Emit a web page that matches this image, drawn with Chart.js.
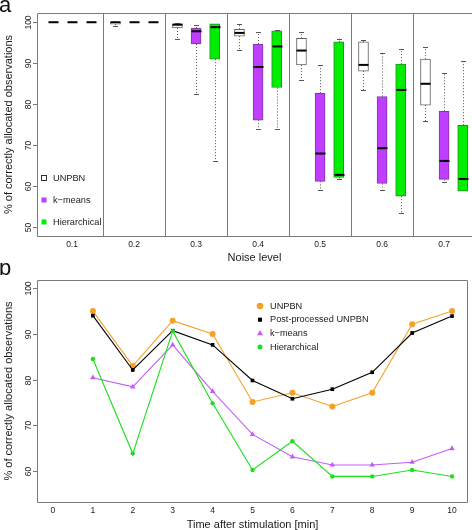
<!DOCTYPE html>
<html>
<head>
<meta charset="utf-8">
<script src="https://cdn.jsdelivr.net/npm/chart.js@4.4.1/dist/chart.umd.min.js"></script>
<style>
  html, body { margin: 0; padding: 0; background: #fff; }
  canvas { display: block; }
</style>
</head>
<body>
<canvas id="chart_a" width="472" height="263"></canvas>
<canvas id="chart_b" width="472" height="267"></canvas>
<script>
// ---- panel a : box plots per noise level ----
const noiseLevels = ["0.1", "0.2", "0.3", "0.4", "0.5", "0.6", "0.7"];
// [lower whisker, q1, median, q3, upper whisker] for each noise level
const unpbnBoxes = [
  [100, 100, 100, 100, 100],
  [99.0, 99.5, 100, 100, 100],
  [95.8, 98.6, 99.4, 99.6, 99.8],
  [93.2, 96.6, 97.4, 98.3, 99.6],
  [85.9, 89.6, 93.1, 96.1, 97.6],
  [83.4, 88.1, 89.6, 95.2, 95.6],
  [75.9, 79.8, 85.0, 91.0, 93.9]
];
const kmeansBoxes = [
  [100, 100, 100, 100, 100],
  [100, 100, 100, 100, 100],
  [82.5, 94.7, 97.8, 98.6, 99.3],
  [74.0, 76.1, 89.1, 94.7, 97.6],
  [59.1, 61.2, 68.0, 82.7, 89.6],
  [59.2, 60.7, 69.3, 81.9, 92.6],
  [61.0, 61.7, 66.2, 78.3, 87.6]
];
const hierBoxes = [
  [100, 100, 100, 100, 100],
  [100, 100, 100, 100, 100],
  [66.3, 91.0, 98.8, 99.6, 99.6],
  [74.0, 84.1, 94.1, 97.9, 98.1],
  [61.9, 62.2, 62.8, 95.2, 96.0],
  [53.4, 57.6, 83.5, 89.8, 93.5],
  [58.8, 58.8, 61.8, 74.9, 90.5]
];
const yTicksA = [50, 60, 70, 80, 90, 100];

// ---- panel b : time course ----
const minutes = [1, 2, 3, 4, 5, 6, 7, 8, 9, 10];
const xTicksB = [0, 1, 2, 3, 4, 5, 6, 7, 8, 9, 10];
const unpbnLine = [95.0, 83.0, 92.9, 90.0, 75.1, 77.1, 74.1, 77.1, 92.1, 95.0];
const postLine = [94.0, 82.1, 90.7, 87.6, 79.8, 75.8, 77.9, 81.6, 90.2, 93.9];
const kmeansLine = [80.4, 78.4, 87.6, 77.4, 68.0, 63.1, 61.3, 61.3, 61.9, 64.9];
const hierLine = [84.5, 63.8, 90.6, 74.8, 60.2, 66.5, 58.8, 58.8, 60.2, 58.8];
const yTicksB = [60, 70, 80, 90, 100];

const FONT = "'Liberation Sans', Arial, sans-serif";
const frameGray = "#7a7a7a";
const textColor = "#1a1a1a";

// frame around the plot region (panel a is cut on the right)
const framePlugin = {
  id: "frame",
  afterDraw(chart, args, opts) {
    const {ctx, chartArea: a} = chart;
    const l = Math.round(a.left) + 0.5, r = Math.round(a.right) - 0.5;
    const t = Math.round(a.top) + 0.5, b = Math.round(a.bottom) + 0.5;
    ctx.save();
    ctx.strokeStyle = frameGray;
    ctx.lineWidth = 1;
    ctx.beginPath();
    if (opts.open) {
      ctx.moveTo(r + 2, t); ctx.lineTo(l, t); ctx.lineTo(l, b); ctx.lineTo(r + 2, b);
    } else {
      ctx.rect(l, t, r - l, b - t);
    }
    ctx.stroke();
    ctx.restore();
  }
};

// R style y ticks: short marks and labels turned upright
const sideTicks = {
  id: "sideTicks",
  afterDraw(chart) {
    const {ctx, chartArea, scales: {y}} = chart;
    ctx.save();
    ctx.strokeStyle = frameGray;
    ctx.fillStyle = textColor;
    ctx.font = "8.5px " + FONT;
    ctx.textAlign = "center";
    ctx.textBaseline = "middle";
    y.ticks.forEach(t => {
      const py = Math.round(y.getPixelForValue(t.value)) + 0.5;
      ctx.beginPath();
      ctx.moveTo(chartArea.left - 4, py);
      ctx.lineTo(chartArea.left, py);
      ctx.stroke();
      ctx.save();
      ctx.translate(chartArea.left - 8, py);
      ctx.rotate(-Math.PI / 2);
      ctx.fillText(String(t.value), 0, 0);
      ctx.restore();
    });
    ctx.restore();
  }
};

const panelLetter = {
  id: "panelLetter",
  afterDraw(chart, args, opts) {
    const ctx = chart.ctx;
    ctx.save();
    ctx.fillStyle = "#111";
    ctx.font = "22px " + FONT;
    ctx.textBaseline = "alphabetic";
    ctx.fillText(opts.text, -1, opts.baseline);
    ctx.restore();
  }
};

// whiskers, caps, medians and the dividers between noise levels
const boxWhiskers = {
  id: "boxWhiskers",
  beforeDatasetsDraw(chart) {
    const {ctx, chartArea, scales: {x}} = chart;
    ctx.save();
    ctx.strokeStyle = frameGray;
    ctx.lineWidth = 1;
    for (let i = 1; i < noiseLevels.length; i++) {
      const px = Math.round(x.getPixelForValue(i + 0.5)) + 0.5;
      ctx.beginPath();
      ctx.moveTo(px, chartArea.top);
      ctx.lineTo(px, chartArea.bottom);
      ctx.stroke();
    }
    ctx.restore();
  },
  afterDatasetsDraw(chart) {
    const {ctx, scales: {y}} = chart;
    ctx.save();
    chart.data.datasets.forEach((ds, di) => {
      const meta = chart.getDatasetMeta(di);
      meta.data.forEach((bar, i) => {
        const s = ds.stats[i];
        const cx = Math.round(bar.x) + 0.5;
        const half = bar.width / 2;
        const yLo = y.getPixelForValue(s[0]), yQ1 = y.getPixelForValue(s[1]);
        const yMed = y.getPixelForValue(s[2]);
        const yQ3 = y.getPixelForValue(s[3]), yHi = y.getPixelForValue(s[4]);
        ctx.strokeStyle = "#555";
        ctx.lineWidth = 1;
        ctx.setLineDash([1, 2]);
        ctx.beginPath();
        if (yLo - yQ1 > 1) { ctx.moveTo(cx, yQ1); ctx.lineTo(cx, yLo); }
        if (yQ3 - yHi > 1) { ctx.moveTo(cx, yQ3); ctx.lineTo(cx, yHi); }
        ctx.stroke();
        ctx.setLineDash([]);
        ctx.beginPath();
        if (yLo - yQ1 > 0.5) { ctx.moveTo(cx - half / 2, Math.round(yLo) + 0.5); ctx.lineTo(cx + half / 2, Math.round(yLo) + 0.5); }
        if (yQ3 - yHi > 0.5) { ctx.moveTo(cx - half / 2, Math.round(yHi) + 0.5); ctx.lineTo(cx + half / 2, Math.round(yHi) + 0.5); }
        ctx.stroke();
        ctx.strokeStyle = "#000";
        ctx.lineWidth = 2;
        ctx.beginPath();
        ctx.moveTo(cx - half, yMed);
        ctx.lineTo(cx + half, yMed);
        ctx.stroke();
      });
    });
    ctx.restore();
  }
};

const boxLegend = {
  id: "boxLegend",
  afterDraw(chart) {
    const {ctx, chartArea} = chart;
    ctx.save();
    ctx.font = "9.2px " + FONT;
    ctx.textBaseline = "middle";
    chart.data.datasets.forEach((ds, i) => {
      const cx = chartArea.left + 7;
      const cy = Math.round(chartArea.bottom - 58 + i * 22.2);
      ctx.fillStyle = ds.backgroundColor;
      ctx.fillRect(cx - 2.5, cy - 2.5, 5, 5);
      if (i === 0) {
        ctx.strokeStyle = "#333";
        ctx.strokeRect(cx - 2.5, cy - 2.5, 5, 5);
      }
      ctx.fillStyle = textColor;
      ctx.fillText(ds.label, cx + 9, cy);
    });
    ctx.restore();
  }
};

const lineLegend = {
  id: "lineLegend",
  afterDraw(chart) {
    const {ctx, chartArea} = chart;
    ctx.save();
    ctx.font = "9.2px " + FONT;
    ctx.textBaseline = "middle";
    chart.data.datasets.forEach((ds, i) => {
      const cx = chartArea.left + 223;
      const cy = chartArea.top + 26 + i * 13.7;
      ctx.fillStyle = ds.pointBackgroundColor;
      ctx.strokeStyle = ds.pointBackgroundColor;
      Chart.helpers.drawPoint(ctx, {pointStyle: ds.pointStyle, radius: ds.pointRadius + 0.3, rotation: 0, borderWidth: 0}, cx, cy);
      ctx.fillStyle = textColor;
      ctx.fillText(ds.label, cx + 10, cy);
    });
    ctx.restore();
  }
};

function boxData(stats, offset) {
  return stats.map((s, i) => ({x: i + 1 + offset, y: [s[1], s[3]]}));
}

function axisTitle(text) {
  return {display: true, text: text, color: textColor, font: {family: FONT, size: 11, lineHeight: 1}, padding: {top: 0, bottom: 0}};
}

const ctxA = document.getElementById("chart_a");
new Chart(ctxA, {
  type: "bar",
  data: {
    datasets: [
      {label: "UNPBN", stats: unpbnBoxes, data: boxData(unpbnBoxes, -0.3), backgroundColor: "#ffffff", borderColor: "#666666"},
      {label: "k\u2212means", stats: kmeansBoxes, data: boxData(kmeansBoxes, 0), backgroundColor: "#bf3eff", borderColor: "#7d3a98"},
      {label: "Hierarchical", stats: hierBoxes, data: boxData(hierBoxes, 0.3), backgroundColor: "#00ee00", borderColor: "#2f8a2f"}
    ]
  },
  options: {
    responsive: false,
    animation: false,
    layout: {padding: {top: 13, right: 0, bottom: 0, left: 0}},
    datasets: {bar: {barThickness: 10, grouped: false, borderWidth: 1, borderSkipped: false}},
    scales: {
      x: {
        type: "linear", min: 0.435, max: 7.45, offset: false,
        grid: {display: false, drawTicks: false},
        border: {display: false},
        afterBuildTicks: s => { s.ticks = noiseLevels.map((_, i) => ({value: i + 1})); },
        afterFit: s => { s.height = 27; },
        ticks: {callback: (v, i) => noiseLevels[i], padding: 4, maxRotation: 0, autoSkip: false, color: textColor, font: {family: FONT, size: 8.5}},
        title: axisTitle("Noise level")
      },
      y: {
        min: 47.9, max: 102.25,
        grid: {display: false, drawTicks: false},
        border: {display: false},
        afterBuildTicks: s => { s.ticks = yTicksA.map(v => ({value: v})); },
        afterFit: s => { s.width = 37; },
        ticks: {display: false},
        title: Object.assign(axisTitle("% of correctly allocated observations"), {padding: {top: 3, bottom: 0}})
      }
    },
    plugins: {
      legend: {display: false},
      tooltip: {enabled: false},
      frame: {open: true},
      panelLetter: {text: "a", baseline: 12}
    }
  },
  plugins: [boxWhiskers, framePlugin, sideTicks, boxLegend, panelLetter]
});

function points(values) {
  return values.map((v, i) => ({x: minutes[i], y: v}));
}

function lineSet(label, values, color, style, radius, order) {
  return {
    label: label, data: points(values), order: order,
    borderColor: color, borderWidth: 1.1,
    pointStyle: style, pointRadius: radius,
    pointBackgroundColor: color, pointBorderColor: color, pointBorderWidth: 0
  };
}

const ctxB = document.getElementById("chart_b");
new Chart(ctxB, {
  type: "line",
  data: {
    datasets: [
      lineSet("UNPBN", unpbnLine, "#f5a128", "circle", 3, 3),
      lineSet("Post-processed UNPBN", postLine, "#000000", "rect", 2.6, 2),
      lineSet("k\u2212means", kmeansLine, "#c25ef7", "triangle", 3.2, 1),
      lineSet("Hierarchical", hierLine, "#19e019", "circle", 2.2, 0)
    ]
  },
  options: {
    responsive: false,
    animation: false,
    layout: {padding: {top: 17, right: 1.3, bottom: 0, left: 0}},
    scales: {
      x: {
        type: "linear", min: -0.4, max: 10.4,
        grid: {display: false, drawTicks: false},
        border: {display: false},
        afterBuildTicks: s => { s.ticks = xTicksB.map(v => ({value: v})); },
        afterFit: s => { s.height = 28; },
        ticks: {padding: 4, maxRotation: 0, autoSkip: false, color: textColor, font: {family: FONT, size: 8.5}},
        title: axisTitle("Time after stimulation [min]")
      },
      y: {
        min: 53.2, max: 101.8,
        grid: {display: false, drawTicks: false},
        border: {display: false},
        afterBuildTicks: s => { s.ticks = yTicksB.map(v => ({value: v})); },
        afterFit: s => { s.width = 37; },
        ticks: {display: false},
        title: Object.assign(axisTitle("% of correctly allocated observations"), {padding: {top: 3, bottom: 0}})
      }
    },
    plugins: {
      legend: {display: false},
      tooltip: {enabled: false},
      frame: {open: false},
      panelLetter: {text: "b", baseline: 12}
    }
  },
  plugins: [framePlugin, sideTicks, lineLegend, panelLetter]
});
</script>
</body>
</html>
